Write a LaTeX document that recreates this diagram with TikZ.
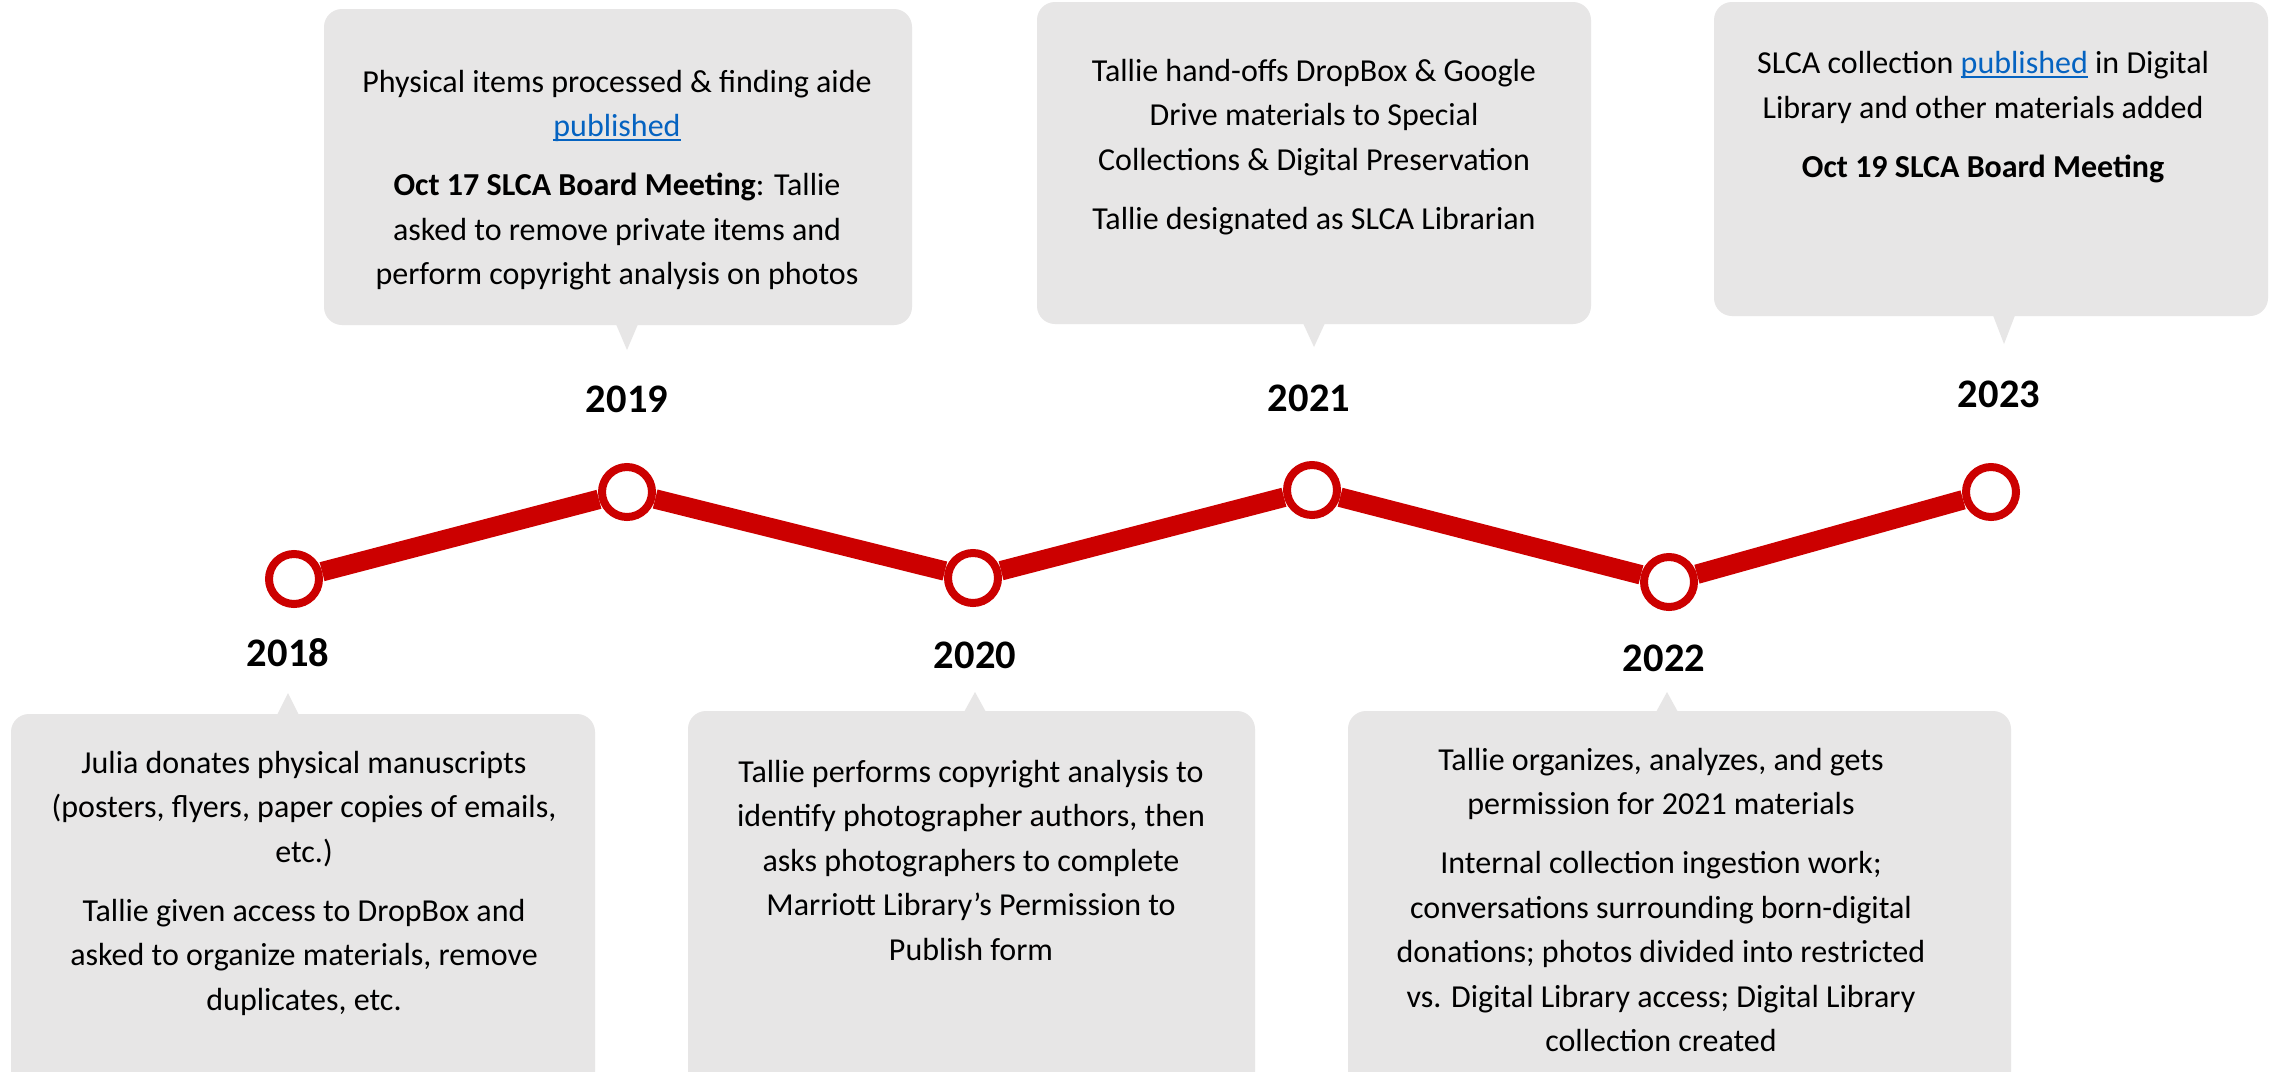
\documentclass[tikz,border=0pt]{standalone}
\usepackage{fontspec}
\setmainfont{Carlito}
\definecolor{tlred}{HTML}{CC0000}
\definecolor{boxgray}{HTML}{E7E6E6}
\definecolor{linkblue}{HTML}{0563C1}
\newcommand{\plink}[1]{\textcolor{linkblue}{\setbox0\hbox{#1}\rlap{\rule[-0.13em]{\wd0}{0.06em}}\box0}}
\begin{document}
\begin{tikzpicture}[x=1pt,y=-1pt,
  infobox/.style={fill=boxgray, rounded corners=18pt},
  pointer/.style={fill=boxgray},
  infotext/.style={font=\fontsize{32}{44.5}\selectfont, align=center, inner sep=0pt, text=black},
  yearlabel/.style={font=\fontsize{40.5}{48}\selectfont\bfseries, inner sep=0pt},
  milestone/.style={circle, draw=tlred, line width=8pt, fill=white, minimum size=50pt, inner sep=0pt},
  trail/.style={draw=tlred, line width=19.5pt}
]
\clip (0,0) rectangle (2280,1071);
\fill[white] (0,0) rectangle (2280,1071);

% boxes
\fill[infobox] (11,714) rectangle (595,1100);
\fill[pointer] (276.5,716) -- (288,693) -- (299.5,716) -- cycle;
\fill[infobox] (324,9) rectangle (912,325);
\fill[pointer] (615.5,323) -- (627,350) -- (638.5,323) -- cycle;
\fill[infobox] (688,711) rectangle (1255,1100);
\fill[pointer] (963.5,713) -- (975,692) -- (986.5,713) -- cycle;
\fill[infobox] (1037,2) rectangle (1591,324);
\fill[pointer] (1302.5,322) -- (1314,347) -- (1325.5,322) -- cycle;
\fill[infobox] (1348,711) rectangle (2011,1100);
\fill[pointer] (1655.5,713) -- (1667,692) -- (1678.5,713) -- cycle;
\fill[infobox] (1714,2) rectangle (2268,316);
\fill[pointer] (1992.5,314) -- (2004,344) -- (2015.5,314) -- cycle;

% texts
\node[infotext] (t2018) at (304,883) {Julia donates physical manuscripts\\
(posters, flyers, paper copies of emails,\\
etc.)\\[14.5pt]
Tallie given access to DropBox and\\
asked to organize materials, remove\\
duplicates, etc.};
\node[infotext] (t2019) at (617,180) {Physical items processed \& finding aide\\
\plink{published}\\[14.5pt]
\textbf{Oct 17 SLCA Board Meeting}: Tallie\\
asked to remove private items and\\
perform copyright analysis on photos};
\node[infotext] (t2020) at (971,860) {Tallie performs copyright analysis to\\
identify photographer authors, then\\
asks photographers to complete\\
Marriott Library’s Permission to\\
Publish form};
\node[infotext] (t2021) at (1314,147) {Tallie hand-offs DropBox \& Google\\
Drive materials to Special\\
Collections \& Digital Preservation\\[14.5pt]
Tallie designated as SLCA Librarian};
\node[infotext] (t2022) at (1661,900) {Tallie organizes, analyzes, and gets\\
permission for 2021 materials\\[14.5pt]
Internal collection ingestion work;\\
conversations surrounding born-digital\\
donations; photos divided into restricted\\
vs. Digital Library access; Digital Library\\
collection created};
\node[infotext] (t2023) at (1983,117) {SLCA collection \plink{published} in Digital\\
Library and other materials added\\[14.5pt]
\textbf{Oct 19 SLCA Board Meeting}};

% milestones
\node[milestone] (m2018) at (294,579) {};
\node[milestone] (m2019) at (627,492) {};
\node[milestone] (m2020) at (973,578) {};
\node[milestone] (m2021) at (1312,490) {};
\node[milestone] (m2022) at (1669,582) {};
\node[milestone] (m2023) at (1991,492) {};
\draw[trail] (m2018) -- (m2019);
\draw[trail] (m2019) -- (m2020);
\draw[trail] (m2020) -- (m2021);
\draw[trail] (m2021) -- (m2022);
\draw[trail] (m2022) -- (m2023);

% years
\node[yearlabel] (y2018) at (288,653) {2018};
\node[yearlabel] (y2019) at (627,399) {2019};
\node[yearlabel] (y2020) at (975,655) {2020};
\node[yearlabel] (y2021) at (1309,398) {2021};
\node[yearlabel] (y2022) at (1664,658) {2022};
\node[yearlabel] (y2023) at (1999,394) {2023};
\end{tikzpicture}
\end{document}
